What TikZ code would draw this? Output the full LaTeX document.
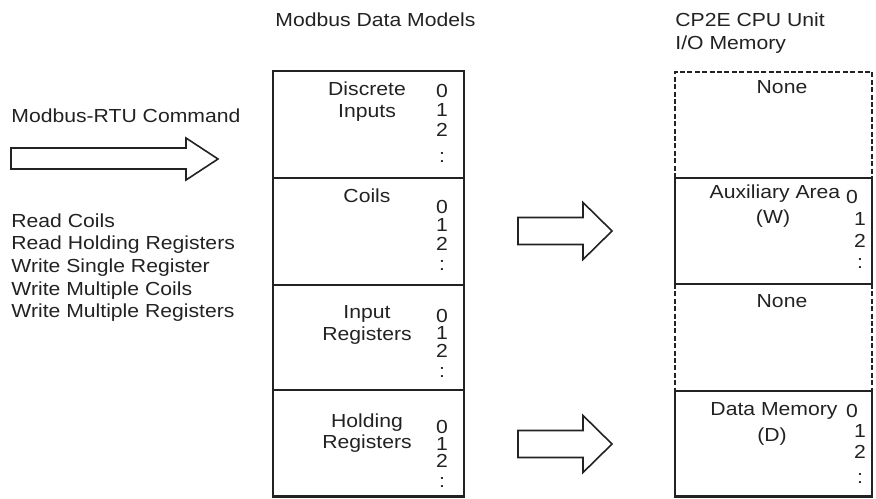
\documentclass[tikz,border=0pt]{standalone}
\usepackage{fontspec}
\setmainfont[FakeStretch=1.12]{Liberation Sans}
\definecolor{MapInk}{HTML}{222222}

\begin{document}
\begin{tikzpicture}[x=0.5pt,y=-0.5pt,
  txt/.style={font=\fontsize{9.45}{11}\selectfont,text=MapInk,inner sep=0pt,anchor=base west},
  lbl/.style={txt,anchor=base},
  num/.style={txt,anchor=base},
  frame/.style={draw=MapInk,line width=1.1pt},
  none/.style={draw=MapInk,line width=1.1pt,dash pattern=on 2.5pt off 1.2pt},
  blk/.style={draw=MapInk,line width=0.8pt,line join=miter}]
  \useasboundingbox (0,0) rectangle (876,498);
  % headings
  \node[txt] (hmod) at (275,26) {Modbus Data Models};
  \node[txt] (hcpu) at (675,26) {CP2E CPU Unit};
  \node[txt] (hio)  at (675,49) {I/O Memory};
  % command side
  \node[txt] (cmd) at (11,122) {Modbus-RTU Command};
  \draw[blk] (11,148) -- (186,148) -- (186,138) -- (218,159)
    -- (186,180) -- (186,169) -- (11,169) -- cycle;
  \foreach \t [count=\i] in {Read Coils,Read Holding Registers,
      Write Single Register,Write Multiple Coils,Write Multiple Registers}{
    \node[txt] (fn\i) at (11,{227+22.7*(\i-1)}) {\t};
  }
  % Modbus data models
  \draw[frame] (273,71) rectangle (464,496.5);
  \foreach \y in {178,285,390}{
    \draw[frame] (273,\y) -- (464,\y);
  }
  \node[lbl] (di1) at (367,95)  {Discrete};
  \node[lbl] (di2) at (367,117) {Inputs};
  \node[lbl] (co1) at (367,202) {Coils};
  \node[lbl] (ir1) at (367,318) {Input};
  \node[lbl] (ir2) at (367,340) {Registers};
  \node[lbl] (hr1) at (367,427) {Holding};
  \node[lbl] (hr2) at (367,448) {Registers};
  % CP2E I/O memory
  \draw[none] (675,178) -- (675,72) -- (872,72) -- (872,178);
  \draw[none] (675,284) -- (675,391);
  \draw[none] (872,284) -- (872,391);
  \draw[frame] (675,178) rectangle (872,284);
  \draw[frame] (675,391) rectangle (872,496.5);
  \node[lbl] (no1) at (782,93)  {None};
  \node[lbl] (au1) at (775,198) {Auxiliary Area};
  \node[lbl] (au2) at (773,223) {(W)};
  \node[lbl] (no2) at (782,307) {None};
  \node[lbl] (dm1) at (774,415) {Data Memory};
  \node[lbl] (dm2) at (772,441) {(D)};
  % address columns
  \foreach \s/\x/\z/\y/\d/\c in {di/442/442/97/19.5/65,co/442/442/213/18.5/57,
      ir/442/442/322/17.5/55,hr/442/442/433/17/54,
      au/852/860/203/22/65,dm/852/860/417/20.5/66}{
    \node[num] (\s a0) at (\x,\y) {0};
    \node[num] (\s a1) at (\z,\y+\d) {1};
    \node[num] (\s a2) at (\z,\y+2*\d) {2};
    \node[num] (\s a3) at (\z,\y+\c) {:};
  }
  % mapping arrows
  \foreach \cy in {231,444}{
    \draw[blk] (518,\cy-13.5) -- (583,\cy-13.5) -- (583,\cy-28.5) -- (612,\cy)
      -- (583,\cy+28.5) -- (583,\cy+13.5) -- (518,\cy+13.5) -- cycle;
  }
\end{tikzpicture}
\end{document}
